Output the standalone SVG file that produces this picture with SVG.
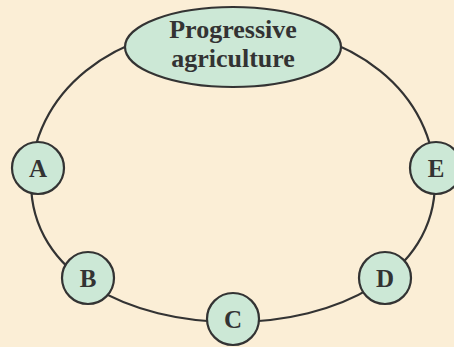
<svg xmlns="http://www.w3.org/2000/svg" width="454" height="347" viewBox="0 0 454 347">
<style>
.bg{fill:#FBEED6}
.node{fill:#CCE8D6;stroke:#333333;stroke-width:2.2}
.conn{fill:none;stroke:#333333;stroke-width:2.2}
.lbl{font-family:"Liberation Serif","Times New Roman",serif;font-weight:bold;fill:#333333;text-anchor:middle}
</style>
<rect class="bg" x="0" y="0" width="454" height="347"/>
<g id="connectors">
<path class="conn" d="M233,322 C130,322 31,275 31,182 C31,95 110,25 233,25 C356,25 435,95 435,182 C435,275 336,322 233,322 Z"/>
</g>
<g id="node-progressive">
<ellipse class="node" cx="233" cy="47" rx="108" ry="40"/>
<text class="lbl" x="233" y="38" font-size="26">Progressive</text>
<text class="lbl" x="233" y="67" font-size="26">agriculture</text>
</g>
<g id="node-a">
<circle class="node" cx="38" cy="168" r="26"/>
<text class="lbl" x="38" y="177" font-size="25">A</text>
</g>
<g id="node-b">
<circle class="node" cx="88" cy="278" r="26"/>
<text class="lbl" x="88" y="287" font-size="25">B</text>
</g>
<g id="node-c">
<circle class="node" cx="233" cy="319" r="26"/>
<text class="lbl" x="233" y="328" font-size="25">C</text>
</g>
<g id="node-d">
<circle class="node" cx="385" cy="278" r="26"/>
<text class="lbl" x="385" y="287" font-size="25">D</text>
</g>
<g id="node-e">
<circle class="node" cx="436" cy="168" r="26"/>
<text class="lbl" x="436" y="177" font-size="25">E</text>
</g>
</svg>
